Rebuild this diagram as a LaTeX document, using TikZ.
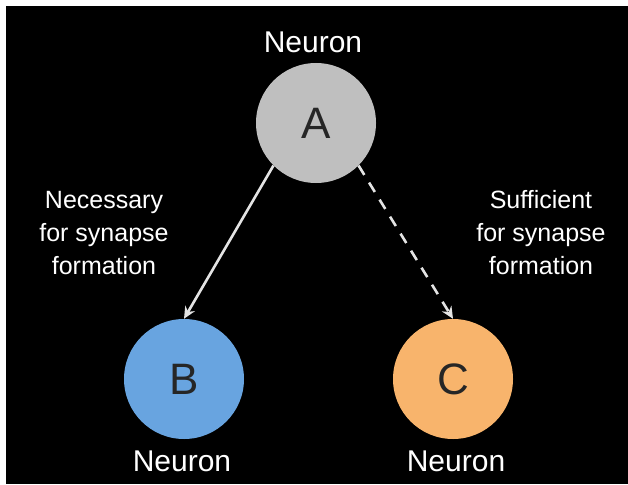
\documentclass[tikz,border=0pt]{standalone}
\usepackage{fontspec}
\setmainfont{Liberation Sans}
\usepackage{xcolor}
\usetikzlibrary{arrows.meta}
\definecolor{cellgray}{RGB}{191,191,191}
\definecolor{cellblue}{RGB}{104,164,224}
\definecolor{cellorange}{RGB}{248,180,108}
\definecolor{linkgray}{RGB}{228,228,228}
\tikzset{>={Stealth[length=12pt,width=11pt]}}

\begin{document}
\begin{tikzpicture}[x=1pt,y=-1pt]

    % Background
    \useasboundingbox[fill=white] (0,0) rectangle (628,484);
    \fill[black] (6,6) rectangle (628,484);

    % Draw neurons A, B, C
    \node[circle, fill=cellgray, minimum size=120pt, inner sep=0pt, text=black!85, font=\fontsize{44}{44}\selectfont] (neuronA) at (316,123) {A};
    \node[circle, fill=cellblue, minimum size=120pt, inner sep=0pt, text=black!85, font=\fontsize{44}{44}\selectfont] (neuronB) at (184,379) {B};
    \node[circle, fill=cellorange, minimum size=120pt, inner sep=0pt, text=black!85, font=\fontsize{44}{44}\selectfont] (neuronC) at (453,379) {C};

    % Labels for neurons
    \node[text=white, font=\fontsize{30}{30}\selectfont] (labA) at (313,42) {Neuron};
    \node[text=white, font=\fontsize{30}{30}\selectfont] (labB) at (182,461) {Neuron};
    \node[text=white, font=\fontsize{30}{30}\selectfont] (labC) at (456,461) {Neuron};

    % Side notes
    \node[text=white, align=center, font=\fontsize{25}{33}\selectfont] (necessary) at (104,233) {Necessary\\for synapse\\formation};
    \node[text=white, align=center, font=\fontsize{25}{33}\selectfont] (sufficient) at (541,233) {Sufficient\\for synapse\\formation};

    % Arrows from A to B and C
    \draw[->, line width=2.6pt, linkgray] (neuronA.south west) -- (neuronB.north);
    \draw[->, line width=2.6pt, linkgray, dash pattern=on 11pt off 9pt] (neuronA.south east) -- (neuronC.north);

\end{tikzpicture}
\end{document}
